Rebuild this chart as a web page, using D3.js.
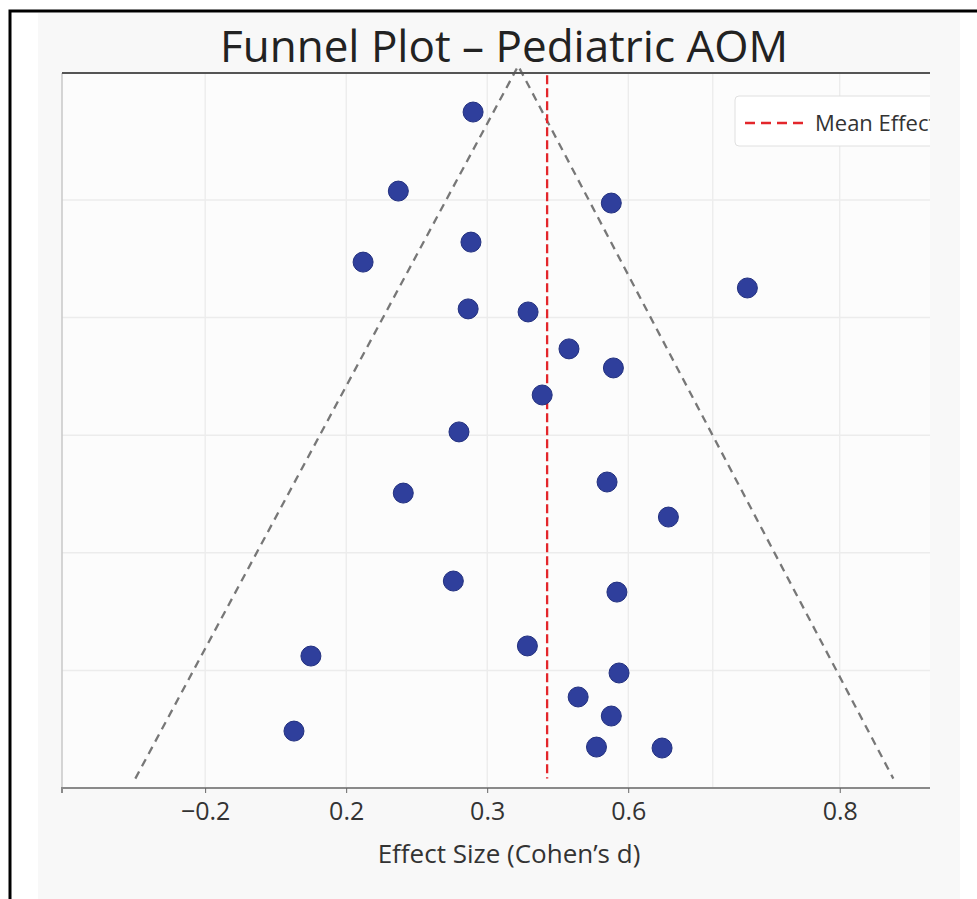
<!DOCTYPE html>
<html>
<head>
<meta charset="utf-8">
<script src="https://cdn.jsdelivr.net/npm/d3@7"></script>
<style>
  body { margin: 0; background: #fff; }
  svg { display: block; font-family: "Open Sans", "Noto Sans", sans-serif; }
</style>
</head>
<body>
<script>
// study effect sizes (Cohen's d) and their standard errors
const effectSizes = [0.180, 0.074, 0.376, 0.177, 0.024, 0.569, 0.173, 0.258, 0.316, 0.379,
                     0.278, 0.160, 0.081, 0.370, 0.457, 0.152, 0.384, -0.050, 0.257, 0.387,
                     0.329, 0.376, -0.074, 0.355, 0.448];
const standardErrors = [0.0126, 0.0462, 0.0513, 0.0679, 0.0764, 0.0874, 0.0963, 0.0976, 0.1133, 0.1214,
                        0.1329, 0.1486, 0.1746, 0.1699, 0.1848, 0.2120, 0.2167, 0.2439, 0.2396, 0.2511,
                        0.2613, 0.2694, 0.2758, 0.2826, 0.2830];

const meanEffect = 0.285;
const meanSpan = [-0.003, 0.296];

// funnel outline: apex and the two base corners
const funnelApex = [0.244, -0.007];
const funnelLeft = [-0.299, 0.296];
const funnelRight = [0.776, 0.296];

const xTickValues = [-0.2, 0.0, 0.2, 0.4, 0.7];
const xTickLabels = ['\u22120.2', '0.2', '0.3', '0.6', '0.8'];
const xGridValues = [-0.2, 0.0, 0.2, 0.4, 0.52, 0.7];
const yGridValues = [0.05, 0.10, 0.15, 0.20, 0.25];

const W = 977, H = 899;
const margin = {top: 73, left: 62, right: 47, bottom: 111};
const width = W - margin.left - margin.right;
const height = H - margin.top - margin.bottom;

const svg = d3.select('body').append('svg')
    .attr('width', W)
    .attr('height', H);

// page frame and figure background
svg.append('rect').attr('x', 38).attr('y', 13).attr('width', 922).attr('height', H - 13).attr('fill', '#f8f8f8');
svg.append('path').attr('d', 'M10,' + H + ' V11 H' + W).attr('fill', 'none').attr('stroke', '#000').attr('stroke-width', 3);

const x = d3.scaleLinear().domain([-0.403, 0.828]).range([0, width]);
const y = d3.scaleLinear().domain([-0.004, 0.3]).range([0, height]);

const g = svg.append('g').attr('transform', 'translate(' + margin.left + ',' + margin.top + ')');

g.append('rect').attr('width', width).attr('height', height).attr('fill', '#fcfcfc');

g.append('defs').append('clipPath').attr('id', 'plotclip')
    .append('rect').attr('x', 0).attr('y', -20).attr('width', width).attr('height', height + 20);

// grid
g.selectAll('.gx').data(xGridValues).enter().append('line')
    .attr('x1', d => x(d)).attr('x2', d => x(d))
    .attr('y1', 0).attr('y2', height)
    .attr('stroke', '#e6e6e6').attr('stroke-width', 1);
g.selectAll('.gy').data(yGridValues).enter().append('line')
    .attr('x1', 0).attr('x2', width)
    .attr('y1', d => y(d)).attr('y2', d => y(d))
    .attr('stroke', '#ececec').attr('stroke-width', 1.5);

// left spine
g.append('line').attr('x1', 0).attr('x2', 0).attr('y1', 0).attr('y2', height)
    .attr('stroke', '#c8c8c8').attr('stroke-width', 1.5);

const plot = g.append('g').attr('clip-path', 'url(#plotclip)');

// funnel
const line = d3.line().x(d => x(d[0])).y(d => y(d[1]));
plot.append('path')
    .attr('d', line([funnelLeft, funnelApex, funnelRight]))
    .attr('fill', 'none')
    .attr('stroke', '#777')
    .attr('stroke-width', 2.3)
    .attr('stroke-dasharray', '8,6');

// mean effect
plot.append('line')
    .attr('x1', x(meanEffect)).attr('x2', x(meanEffect))
    .attr('y1', y(meanSpan[0])).attr('y2', y(meanSpan[1]))
    .attr('stroke', '#e3262b')
    .attr('stroke-width', 2.3)
    .attr('stroke-dasharray', '9,4');

// points
plot.selectAll('circle').data(effectSizes).enter().append('circle')
    .attr('cx', d => x(d))
    .attr('cy', (d, i) => y(standardErrors[i]))
    .attr('r', 10)
    .attr('fill', '#2f3f9c')
    .attr('stroke', '#22307f')
    .attr('stroke-width', 1);

// legend (cut off at the right edge)
const legend = plot.append('g').attr('transform', 'translate(' + (735 - margin.left) + ',' + (96 - margin.top) + ')');
legend.append('rect').attr('width', 260).attr('height', 50).attr('rx', 4)
    .attr('fill', '#fff').attr('stroke', '#e0e0e0');
legend.append('line').attr('x1', 10).attr('x2', 72).attr('y1', 27).attr('y2', 27)
    .attr('stroke', '#e3262b').attr('stroke-width', 2.5).attr('stroke-dasharray', '10,6');
legend.append('text').attr('x', 80).attr('y', 35).attr('font-size', 22).attr('fill', '#333').text('Mean Effect');

// top spine
g.append('line').attr('x1', 0).attr('x2', width).attr('y1', 0).attr('y2', 0)
    .attr('stroke', '#555').attr('stroke-width', 2);

// x axis
const xAxis = d3.axisBottom(x)
    .tickValues(xTickValues)
    .tickFormat((d, i) => xTickLabels[i])
    .tickSize(5)
    .tickPadding(9);
const ax = g.append('g').attr('transform', 'translate(0,' + height + ')').call(xAxis);
ax.attr('font-size', 25).attr('font-family', '"Open Sans", sans-serif');
ax.select('.domain').attr('stroke', '#8a8a8a').attr('stroke-width', 2).attr('d', 'M0,5V0H' + width);
ax.selectAll('.tick line').attr('stroke', '#666');
ax.selectAll('.tick text').attr('fill', '#333');

// titles
svg.append('text')
    .attr('x', margin.left + width / 2 + 8)
    .attr('y', 62)
    .attr('text-anchor', 'middle')
    .attr('font-size', 44)
    .attr('fill', '#222')
    .text('Funnel Plot \u2013 Pediatric AOM');

svg.append('text')
    .attr('x', margin.left + width / 2 + 13)
    .attr('y', 863)
    .attr('text-anchor', 'middle')
    .attr('font-size', 26)
    .attr('fill', '#333')
    .text('Effect Size (Cohen\u2019s d)');
</script>
</body>
</html>
